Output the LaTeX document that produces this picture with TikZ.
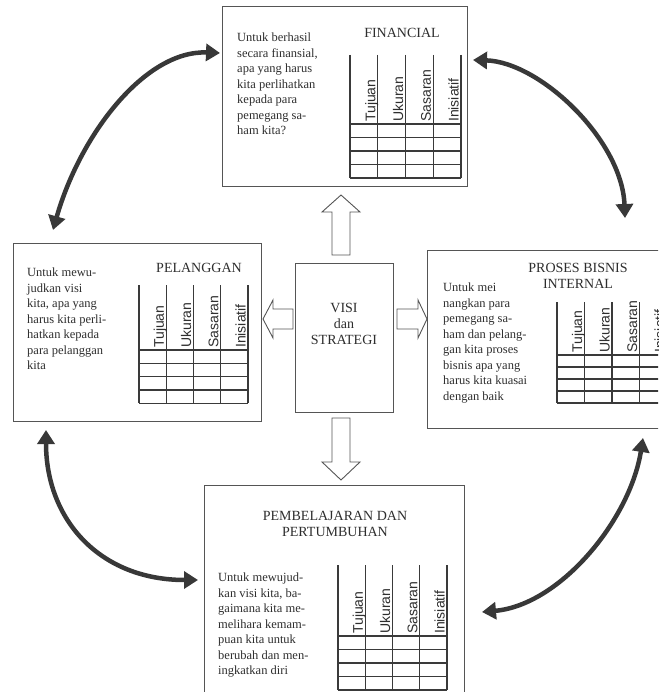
\documentclass[tikz,border=0pt]{standalone}
\usepackage{fontspec}
\setmainfont{Liberation Serif}
\newfontfamily\headfont{Liberation Sans}
\usetikzlibrary{arrows.meta}

\definecolor{inkgray}{HTML}{2E2E2E}
\definecolor{framegray}{HTML}{555555}
\definecolor{gridgray}{HTML}{3A3A3A}
\definecolor{linkgray}{HTML}{383838}

\tikzset{
  panel/.style={draw=framegray, line width=0.9pt, fill=white, inner sep=0pt, outer sep=0pt},
  grid/.style={draw=gridgray, line width=1.3pt},
  colhead/.style={rotate=90, anchor=base west, inner sep=0pt, text=inkgray,
    font=\headfont\fontsize{14}{14}\selectfont},
  bodytext/.style={align=left, anchor=north west, inner sep=0pt, text=inkgray,
    font=\fontsize{12.5}{15.5}\selectfont},
  title/.style={align=center, inner sep=0pt, text=inkgray,
    font=\fontsize{14}{16}\selectfont},
  hollow/.style={draw=framegray, line width=0.9pt, fill=white, line join=miter},
  link/.style={draw=linkgray, line width=4.5pt,
    {Triangle[length=14pt,width=17pt]}-{Triangle[length=14pt,width=17pt]}}
}

% scorecard grid: #1 left x, #2 column width, #3 top y,
% #4 header bottom y, #5 row height, #6 name prefix
\newcommand\scorecardgrid[6]{%
  \foreach \i in {0,...,4}
    \draw[grid] ({#1+\i*#2},#3) -- ({#1+\i*#2},{#4+4*#5});
  \foreach \j in {0,...,4}
    \draw[grid] (#1,{#4+\j*#5}) -- ({#1+4*#2},{#4+\j*#5});
  \foreach \w [count=\k from 1] in {Tujuan,Ukuran,Sasaran,Inisiatif}
    \node[colhead] (#6-\k) at ({#1+\k*#2-2.5},{#4-2}) {\w};
}

\begin{document}
\begin{tikzpicture}[x=1pt,y=-1pt]
\useasboundingbox (0,0) rectangle (658,692);
\clip (0,0) rectangle (658,692);

% perspective panels
\node[panel, minimum width=245pt, minimum height=180pt] (fin)  at (344.5,96) {};
\node[panel, minimum width=248pt, minimum height=178pt] (pel)  at (137,332) {};
\node[panel, minimum width=253pt, minimum height=178pt] (pro)  at (553.5,339) {};
\node[panel, minimum width=260pt, minimum height=225pt] (grow) at (334,597.5) {};
\node[panel, minimum width=98pt,  minimum height=149pt] (visi) at (344,337.5) {};

% financial
\node[title] (finT) at (402,33) {FINANCIAL};
\node[bodytext] (finX) at (237,33) {Untuk berhasil\\secara finansial,\\apa yang harus\\kita perlihatkan\\kepada para\\pemegang sa-\\ham kita?};
\scorecardgrid{350}{27.75}{55}{124}{13.5}{finC}

% customer
\node[title] (pelT) at (199,268) {PELANGGAN};
\node[bodytext] (pelX) at (27,268) {Untuk mewu-\\judkan visi\\kita, apa yang\\harus kita perli-\\hatkan kepada\\para pelanggan\\kita};
\scorecardgrid{139}{27.25}{285}{350}{13.3}{pelC}

% internal process
\node[title] (proT) at (578,276) {PROSES BISNIS\\INTERNAL};
\node[bodytext] (proX) at (443,283) {Untuk mei\\nangkan para\\pemegang sa-\\ham dan pelang-\\gan kita proses\\bisnis apa yang\\harus kita kuasai\\dengan baik};
\scorecardgrid{557}{27.5}{302}{355}{12}{proC}

% learning and growth
\node[title] (growT) at (335,524) {PEMBELAJARAN DAN\\PERTUMBUHAN};
\node[bodytext] (growX) at (218,573) {Untuk mewujud-\\kan visi kita, ba-\\gaimana kita me-\\melihara kemam-\\puan kita untuk\\berubah dan men-\\ingkatkan diri};
\scorecardgrid{338}{27.25}{565}{636}{13.5}{growC}

% vision and strategy
\node[title] (visiT) at (344,324) {VISI\\dan\\STRATEGI};

% hollow block arrows out of the centre
\draw[hollow] (332,255) -- (332,212) -- (322,212) -- (341,195) -- (360,212) -- (350,212) -- (350,255) -- cycle;
\draw[hollow] (293,309) -- (273,309) -- (273,300) -- (263,319) -- (273,338) -- (273,329) -- (293,329) -- cycle;
\draw[hollow] (397,309) -- (418,309) -- (418,300) -- (427,319) -- (418,338) -- (418,329) -- (397,329) -- cycle;
\draw[hollow] (332,418) -- (350,418) -- (350,462) -- (360,462) -- (341,480) -- (322,462) -- (332,462) -- cycle;

% curved two-way links between neighbouring panels
\coordinate (finW) at (220,53);
\coordinate (pelN) at (53,230);
\coordinate (finE) at (473,60);
\coordinate (proN) at (625,218);
\coordinate (pelS) at (46,430);
\coordinate (growW) at (198,580);
\coordinate (growE) at (482,612);
\coordinate (proS) at (643,438);

\draw[link] (pelN) .. controls (80,135) and (145,50) .. (finW);
\draw[link] (finE) .. controls (540,62) and (622,140) .. (proN);
\draw[link] (pelS) .. controls (46,520) and (100,580) .. (growW);
\draw[link] (growE) .. controls (560,605) and (630,520) .. (proS);
\end{tikzpicture}
\end{document}
